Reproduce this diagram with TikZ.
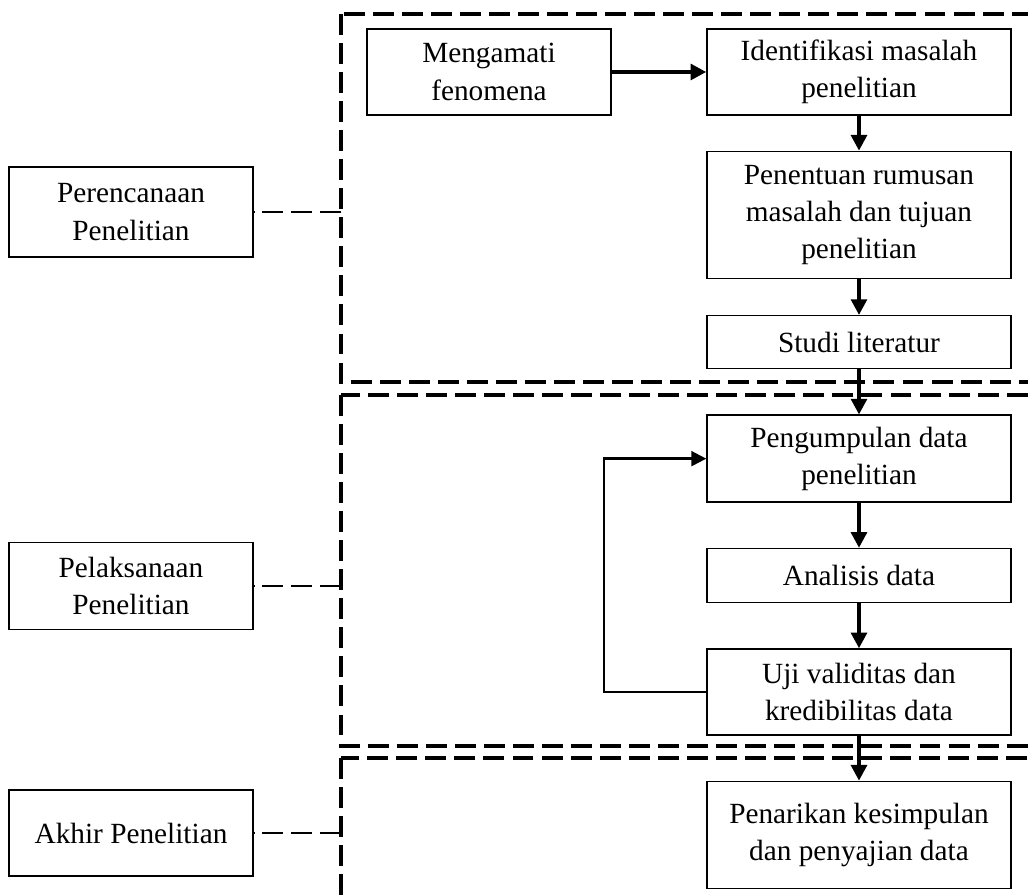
\documentclass[tikz,border=0pt]{standalone}
\usepackage{fontspec}
\setmainfont{Liberation Serif}
\usetikzlibrary{arrows.meta,positioning}

\begin{document}
\begin{tikzpicture}[
  x=0.42pt,y=-0.42pt,
  node distance=18.9pt,
  box/.style={rectangle,draw=black,line width=0.6pt,align=center,inner sep=2pt,font=\fontsize{12.3}{15.6}\selectfont},
  sidebox/.style={box,minimum width=102.5pt},
  stepbox/.style={box,minimum width=127.7pt},
  arrow/.style={-{Triangle[length=6.6pt,width=6.6pt]},line width=1.6pt},
  backarrow/.style={-{Triangle[length=6.3pt,width=6.3pt]},line width=1pt},
  frame/.style={dash pattern=on 8.8pt off 3.4pt,line width=1.3pt},
  link/.style={dash pattern=on 8.8pt off 3.4pt,line width=1.1pt}
]
\useasboundingbox (0,0) rectangle (1028,895);
\clip (0,0) rectangle (1028,895);

% dashed stage frames
\coordinate (fa) at (341,14);
\coordinate (fb) at (341,395);
\coordinate (fc) at (341,758);
\draw[frame] (fa) rectangle (1045,382);
\draw[frame] (fb) rectangle (1045,746);
\draw[frame] (fc) rectangle (1045,920);

% stages on the left
\node[sidebox,minimum height=37.8pt] (rencana) at (131,212) {Perencanaan\\Penelitian};
\node[sidebox,minimum height=36.5pt] (laksana) at (131,586) {Pelaksanaan\\Penelitian};
\node[sidebox,minimum height=36.1pt] (akhir) at (131,833) {Akhir Penelitian};

% steps
\node[sidebox,minimum height=36.1pt] (amati) at (489,72) {Mengamati\\fenomena};
\node[stepbox,minimum height=36.1pt] (masalah) at (859,72) {Identifikasi masalah\\penelitian};
\node[stepbox,minimum height=53.3pt,below=14.7pt of masalah] (rumusan) {Penentuan rumusan\\masalah dan tujuan\\penelitian};
\node[stepbox,minimum height=22.3pt,below=15.1pt of rumusan] (studi) {Studi literatur};
\node[stepbox,minimum height=36.5pt,below=of studi] (kumpul) {Pengumpulan data\\penelitian};
\node[stepbox,minimum height=22.7pt,below=of kumpul] (analisis) {Analisis data};
\node[stepbox,minimum height=36.1pt,below=of analisis] (uji) {Uji validitas dan\\kredibilitas data};
\node[stepbox,minimum height=44.9pt,below=of uji] (tarik) {Penarikan kesimpulan\\dan penyajian data};

% links to frames
\draw[link] (rencana -| fa) -- (rencana);
\draw[link] (laksana -| fb) -- (laksana);
\draw[link] (akhir -| fc) -- (akhir);

% flow
\draw[arrow] (amati) -- (masalah);
\draw[arrow] (masalah) -- (rumusan);
\draw[arrow] (rumusan) -- (studi);
\draw[arrow] (studi) -- (kumpul);
\draw[arrow] (kumpul) -- (analisis);
\draw[arrow] (analisis) -- (uji);
\draw[arrow] (uji) -- (tarik);
\draw[backarrow] (uji.west) -- ++(-102,0) |- (kumpul.west);
\end{tikzpicture}
\end{document}
